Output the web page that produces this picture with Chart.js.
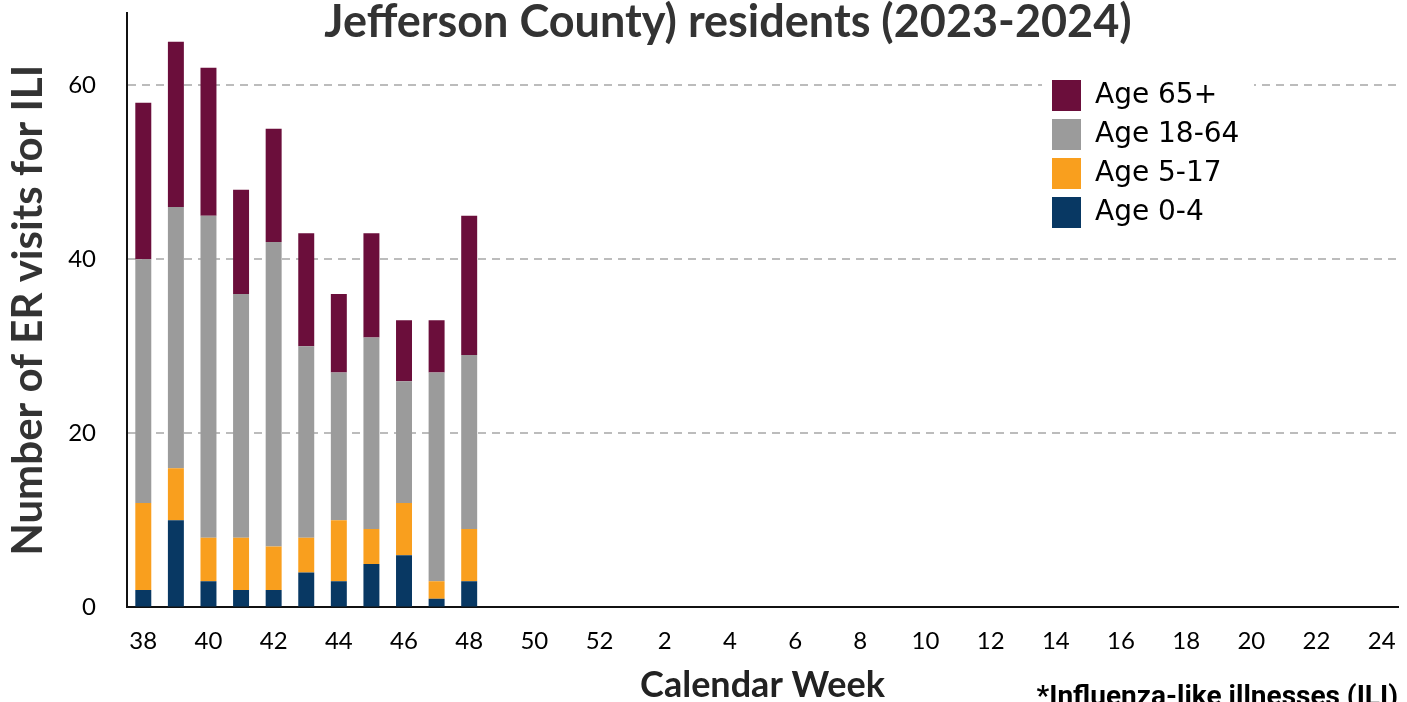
<!DOCTYPE html>
<html>
<head>
<meta charset="utf-8">
<script src="https://cdn.jsdelivr.net/npm/chart.js@4"></script>
<style>
  body { margin: 0; background: #fff; }
  canvas { display: block; }
</style>
</head>
<body>
<canvas id="grafico" width="1407" height="702"></canvas>
<script>
var semanas = ['38', '39', '40', '41', '42', '43', '44', '45', '46', '47', '48', '49', '50', '51', '52',
    '1', '2', '3', '4', '5', '6', '7', '8', '9', '10', '11', '12',
    '13', '14', '15', '16', '17', '18', '19', '20', '21', '22', '23', '24'];

var idade0a4 = [2, 10, 3, 2, 2, 4, 3, 5, 6, 1, 3];
var idade5a17 = [10, 6, 5, 6, 5, 4, 7, 4, 6, 2, 6];
var idade18a64 = [28, 30, 37, 28, 35, 22, 17, 22, 14, 24, 20];
var idade65mais = [18, 19, 17, 12, 13, 13, 9, 12, 7, 6, 16];

var ticksY = [0, 20, 40, 60];

// legenda dentro da area do grafico, com fundo branco
var legendaDentro = {
    id: 'legendaDentro',
    afterInit: function (chart) {
        var lg = chart.legend;
        var fit = lg.fit;
        lg.fit = function () { fit.call(this); this.width = 0; };
        var draw = lg.draw;
        lg.draw = function () {
            var c = this.ctx;
            c.save();
            c.fillStyle = '#fff';
            c.fillRect(1042, 72, 212, 160);
            c.restore();
            draw.call(this);
        };
    },
    afterLayout: function (chart) {
        var lg = chart.legend;
        lg.left = 1044; lg.top = 69;
        lg.width = 210; lg.height = 170;
        lg.right = lg.left + lg.width; lg.bottom = lg.top + lg.height;
    }
};

geraGrafico(document.getElementById('grafico'));

function geraGrafico(ctx) {
    var chartGraph = new Chart(ctx, {
        type: 'bar',
        data: {
            labels: semanas,
            datasets: [{
                label: 'Age 0-4',
                data: idade0a4,
                backgroundColor: '#083863'
            }, {
                label: 'Age 5-17',
                data: idade5a17,
                backgroundColor: '#f99f1e'
            }, {
                label: 'Age 18-64',
                data: idade18a64,
                backgroundColor: '#9b9b9b'
            }, {
                label: 'Age 65+',
                data: idade65mais,
                backgroundColor: '#6b0e3b'
            }]
        },
        plugins: [legendaDentro],
        options: {
            responsive: false,
            animation: false,
            layout: { padding: { left: 58, right: 9 } },
            datasets: {
                bar: { barPercentage: 0.49, categoryPercentage: 1 }
            },
            scales: {
                x: {
                    stacked: true,
                    grid: {
                        drawOnChartArea: false,
                        color: 'transparent',
                        tickColor: 'transparent',
                        tickLength: 16
                    },
                    border: { color: '#111', width: 2 },
                    ticks: {
                        autoSkip: false,
                        maxRotation: 0,
                        padding: 3,
                        color: '#000',
                        font: { family: 'Lato', size: 24 },
                        callback: function (v, i) { return i % 2 === 0 ? semanas[i] : ''; }
                    },
                    title: {
                        display: true,
                        text: 'Calendar Week',
                        color: '#222',
                        font: { family: 'Lato', size: 36, weight: 'bold' },
                        padding: { top: 0, bottom: -6 }
                    },
                    afterFit: function (s) { s.height = 94; }
                },
                y: {
                    stacked: true,
                    min: 0,
                    max: 68.3,
                    afterBuildTicks: function (s) {
                        s.ticks = ticksY.map(function (v) { return { value: v }; });
                    },
                    grid: { color: '#bcbcbc', lineWidth: 2, tickColor: 'transparent', tickLength: 28 },
                    border: { color: '#111', width: 2, dash: [8, 6] },
                    ticks: {
                        padding: 3,
                        color: '#000',
                        font: { family: 'Lato', size: 24, lineHeight: 0.8 }
                    },
                    title: {
                        display: true,
                        text: 'Number of ER visits for ILI',
                        color: '#333',
                        font: { family: 'Lato', size: 42, weight: 'bold' },
                        padding: { top: -55, bottom: 0 }
                    },
                    afterFit: function (s) { s.width = 69; }
                }
            },
            plugins: {
                title: {
                    display: true,
                    text: 'Jefferson County) residents (2023-2024)',
                    color: '#333',
                    font: { family: 'Lato', size: 45, weight: 'bold' },
                    padding: { top: -5, bottom: -36 }
                },
                subtitle: {
                    display: true,
                    position: 'bottom',
                    align: 'end',
                    text: '*Influenza-like illnesses (ILI)',
                    color: '#000',
                    font: { family: 'Roboto', size: 28, weight: 'bold' },
                    padding: { top: -20, bottom: -13 }
                },
                legend: {
                    position: 'right',
                    reverse: true,
                    labels: {
                        boxWidth: 29,
                        boxHeight: 31,
                        padding: 8,
                        color: '#000',
                        font: { family: 'DejaVu Sans', size: 28 }
                    }
                },
                tooltip: { enabled: false }
            }
        }
    });
}
</script>
</body>
</html>
